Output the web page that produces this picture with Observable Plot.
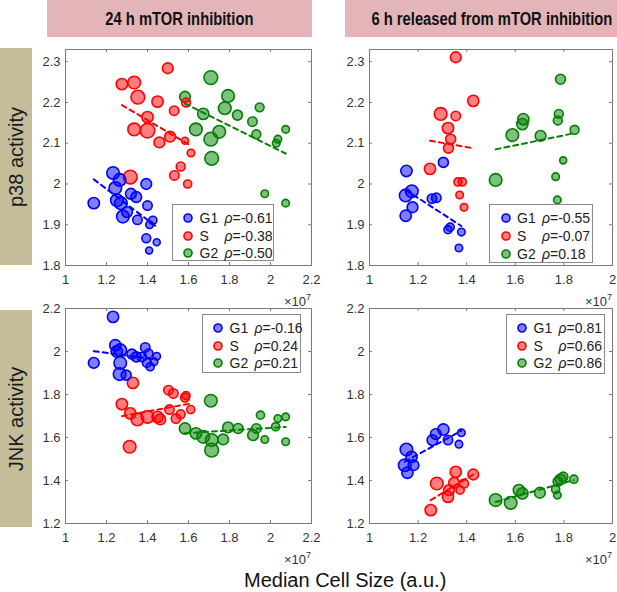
<!DOCTYPE html>
<html><head><meta charset="utf-8">
<script src="https://cdn.jsdelivr.net/npm/d3@7"></script>
<script src="https://cdn.jsdelivr.net/npm/@observablehq/plot@0.6"></script>
<style>
body{margin:0;background:#fff;font-family:"Liberation Sans",Arial,sans-serif;}
#wrap{position:relative;width:617px;height:592px;overflow:hidden;background:#fff;}
.hdr{position:absolute;top:0;height:37px;background:#e3b5b8;font-family:"Liberation Sans",Arial,sans-serif;font-weight:bold;font-size:18px;line-height:38px;text-align:center;color:#111;white-space:nowrap;}
.hdr span{display:inline-block;transform:scaleX(0.82);transform-origin:center;}
.side{position:absolute;left:0;width:32px;background:#c5bd9a;}
.side span{position:absolute;left:50%;top:50%;transform:translate(-50%,-50%) rotate(-90deg);white-space:nowrap;font-size:20px;color:#1a1a1a;}
.leg{position:absolute;background:#fff;border:1px solid #8a8a8a;box-sizing:border-box;font-size:14px;color:#222;}
.leg .row{position:absolute;left:0;height:16px;line-height:16px;white-space:nowrap;}
.exp{position:absolute;font-size:13px;color:#333;line-height:13px;text-align:right;white-space:nowrap;}
.exp sup{font-size:9px;line-height:0;vertical-align:6px;}
.xt{position:absolute;font-size:20px;line-height:20px;color:#111;white-space:nowrap;}
</style></head>
<body><div id="wrap"></div>
<script>
// ---------- labels ----------
const colTitles = ["24 h mTOR inhibition", "6 h released from mTOR inhibition"];
const rowTitles = ["p38 activity", "JNK activity"];
const xTitle = "Median Cell Size (a.u.)";
const phases = ["G1", "S", "G2"];
const phaseColors = ["#0000ff", "#ff0000", "#008000"];

// ---------- ticks ----------
const xTicks24h = [1, 1.2, 1.4, 1.6, 1.8, 2, 2.2];
const xTicks6h = [1, 1.2, 1.4, 1.6, 1.8, 2];
const yTicksP38 = [1.8, 1.9, 2, 2.1, 2.2, 2.3];
const yTicksJNK = [1.2, 1.4, 1.6, 1.8, 2, 2.2];

// ---------- correlations ----------
const rho_p38_24h = ["-0.61", "-0.38", "-0.50"];
const rho_p38_6h = ["-0.55", "-0.07", "0.18"];
const rho_jnk_24h = ["-0.16", "0.24", "0.21"];
const rho_jnk_6h = ["0.81", "0.66", "0.86"];

// ---------- p38, 24 h mTOR inhibition (x in 1e7 a.u.) ----------
const p38_24h_G1_x = [1.232,1.264,1.243,1.138,1.251,1.270,1.319,1.345,1.394,1.300,1.280,1.351,1.400,1.426,1.410,1.394,1.445,1.408];
const p38_24h_G1_y = [2.027,2.010,1.990,1.953,1.960,1.953,1.976,1.968,2.000,1.931,1.920,1.912,1.947,1.911,1.900,1.867,1.857,1.837];
const p38_24h_G1_n = [6.7,6.7,6.7,6,6.7,6.7,5.7,5.7,5.7,5.7,6.7,5,5,4.3,4,4.7,3.7,3.7];
const p38_24h_S_x = [1.499,1.275,1.335,1.353,1.449,1.530,1.588,1.400,1.335,1.400,1.510,1.458,1.583,1.612,1.562,1.531,1.596,1.316];
const p38_24h_S_y = [2.284,2.245,2.249,2.213,2.202,2.180,2.200,2.164,2.134,2.131,2.116,2.102,2.106,2.076,2.043,2.021,2.000,2.017];
const p38_24h_S_n = [5.7,6,6.7,7.3,6,5,4.7,6,6.7,7.7,5.7,5.7,3.7,4,4.7,5,4.3,7.3];
const p38_24h_G2_x = [1.709,1.583,1.793,1.777,1.839,1.947,1.672,1.912,1.636,1.750,1.709,1.931,2.036,2.028,2.074,1.713,1.972,2.074];
const p38_24h_G2_y = [2.261,2.214,2.216,2.186,2.169,2.188,2.172,2.153,2.134,2.128,2.110,2.122,2.110,2.100,2.134,2.063,1.976,1.953];
const p38_24h_G2_n = [7.3,5.7,6.7,6.7,5.3,4.7,6,5,6.7,6.7,7.3,4.7,4,4,4,7.3,4,4];

// ---------- p38, 6 h released ----------
const p38_6h_G1_x = [1.152,1.149,1.174,1.177,1.149,1.257,1.275,1.304,1.323,1.332,1.378,1.368];
const p38_6h_G1_y = [2.032,1.972,1.982,1.943,1.922,1.964,1.966,2.053,1.888,1.894,1.882,1.843];
const p38_6h_G1_n = [6,6.7,6.7,5.7,6,5,5,5.3,4.3,4.3,4,4];
const p38_6h_S_x = [1.355,1.427,1.293,1.355,1.323,1.334,1.325,1.249,1.364,1.382,1.371,1.389];
const p38_6h_S_y = [2.311,2.204,2.172,2.167,2.137,2.110,2.088,2.037,2.005,2.005,1.973,1.943];
const p38_6h_S_n = [5.7,6,6.7,5,6,5.3,5.3,6,4.3,4.3,4,4];
const p38_6h_G2_x = [1.786,1.633,1.629,1.588,1.704,1.779,1.775,1.844,1.519,1.766,1.797,1.773];
const p38_6h_G2_y = [2.257,2.159,2.147,2.120,2.118,2.172,2.156,2.133,2.010,2.018,2.058,1.961];
const p38_6h_G2_n = [5.3,6,6,6.7,5.7,4.7,4.7,4.7,6.7,4,3.7,4];

// ---------- JNK, 24 h mTOR inhibition ----------
const jnk_24h_G1_x = [1.232,1.243,1.267,1.324,1.345,1.389,1.405,1.445,1.138,1.267,1.250,1.264,1.296,1.397,1.413,1.432,1.372];
const jnk_24h_G1_y = [2.161,2.029,2.006,1.988,1.975,2.019,1.991,1.978,1.947,1.947,2.000,1.895,1.890,1.947,1.929,1.952,1.975];
const jnk_24h_G1_n = [6,6,6.7,5.3,5.3,5,4.7,4,5.7,6.7,6,6.7,5.3,4.7,4.3,4,5];
const jnk_24h_S_x = [1.329,1.502,1.526,1.583,1.588,1.275,1.316,1.351,1.400,1.449,1.462,1.507,1.539,1.562,1.611,1.313];
const jnk_24h_S_y = [1.854,1.820,1.805,1.786,1.795,1.755,1.712,1.684,1.696,1.696,1.684,1.730,1.688,1.708,1.730,1.557];
const jnk_24h_S_n = [6,5,5,4.7,4.3,6,6,6.7,6.7,6,5.7,5,5,4.7,4.3,6.7];
const jnk_24h_G2_x = [1.709,1.583,1.636,1.672,1.713,1.713,1.769,1.793,1.842,1.915,1.931,1.951,1.972,2.025,2.036,2.074,2.074];
const jnk_24h_G2_y = [1.771,1.642,1.619,1.603,1.588,1.541,1.591,1.647,1.642,1.611,1.642,1.704,1.591,1.650,1.688,1.696,1.580];
const jnk_24h_G2_n = [6.7,6,6,6.7,6.7,7.3,5.7,5.7,5.3,5.7,5,4.3,4,4.3,4,4,4];

// ---------- JNK, 6 h released ----------
const jnk_6h_G1_x = [1.152,1.145,1.156,1.173,1.181,1.259,1.273,1.304,1.323,1.368,1.378];
const jnk_6h_G1_y = [1.544,1.471,1.436,1.510,1.471,1.588,1.616,1.637,1.588,1.569,1.622];
const jnk_6h_G1_n = [6.7,6.7,6,6,5.7,5.7,5.7,6,5,4,4];
const jnk_6h_S_x = [1.252,1.277,1.323,1.355,1.348,1.373,1.389,1.427,1.327];
const jnk_6h_S_y = [1.262,1.386,1.324,1.440,1.389,1.355,1.386,1.428,1.355];
const jnk_6h_S_n = [6,6.7,6,6,5.7,4.3,4.7,5.7,5.7];
const jnk_6h_G2_x = [1.519,1.581,1.615,1.629,1.701,1.766,1.773,1.786,1.797,1.841,1.775];
const jnk_6h_G2_y = [1.309,1.296,1.355,1.340,1.343,1.358,1.332,1.405,1.417,1.406,1.395];
const jnk_6h_G2_n = [6.7,6.7,6,6,5.7,4.3,4,5.7,5,4.3,5];

// ---------- helpers ----------
const rows = (xs, ys, ns, phase) => xs.map((x, i) => ({x, y: ys[i], n: ns[i], phase}));
const table = (g1, s, g2) => [...rows(...g1, "G1"), ...rows(...s, "S"), ...rows(...g2, "G2")];
const fmt = d3.format("~g");
const wrap = document.getElementById("wrap");

function div(cls, css, html) {
  const el = document.createElement("div");
  el.className = cls;
  Object.assign(el.style, css);
  el.innerHTML = html;
  wrap.appendChild(el);
  return el;
}

function panel(data, o) {
  const f = o.frame;
  const mL = 40, mT = 10, mR = 8, mB = 30;
  const fw = f.right - f.left, fh = f.bottom - f.top;
  const axisColor = "#7a7a7a";
  const chart = Plot.plot({
    width: fw + mL + mR, height: fh + mT + mB,
    marginLeft: mL, marginTop: mT, marginRight: mR, marginBottom: mB,
    style: {background: "transparent", fontFamily: "Liberation Sans, Arial, sans-serif", fontSize: "13px", color: "#333", overflow: "visible"},
    x: {domain: o.xDomain, label: null},
    y: {domain: o.yDomain, label: null},
    r: {type: "linear", domain: [0, 10], range: [0, 9.4]},
    color: {domain: phases, range: phaseColors},
    marks: [
      Plot.frame({stroke: axisColor}),
      Plot.tickX(o.xTicks, {x: d => d, insetTop: fh - 3, stroke: axisColor}),
      Plot.tickX(o.xTicks, {x: d => d, insetBottom: fh - 3, stroke: axisColor}),
      Plot.tickY(o.yTicks, {y: d => d, insetRight: fw - 3, stroke: axisColor}),
      Plot.tickY(o.yTicks, {y: d => d, insetLeft: fw - 3, stroke: axisColor}),
      Plot.axisX({ticks: o.xTicks, tickSize: 0, tickPadding: 9, tickFormat: fmt, label: null}),
      Plot.axisY({ticks: o.yTicks, tickSize: 0, tickPadding: 5, tickFormat: fmt, label: null}),
      Plot.dot(data, {x: "x", y: "y", r: "n", fill: "phase", stroke: "phase", fillOpacity: 0.5, strokeWidth: 1.6}),
      Plot.linearRegressionY(data, {x: "x", y: "y", stroke: "phase", ci: 0, strokeWidth: 2, strokeDasharray: "5,4"})
    ]
  });
  chart.style.position = "absolute";
  chart.style.left = (f.left - mL) + "px";
  chart.style.top = (f.top - mT) + "px";
  wrap.appendChild(chart);

  // exponent label
  div("exp", {right: (617 - f.right) + "px", top: (f.bottom + 29.5) + "px"}, "&times;10<sup>7</sup>");

  // legend
  const L = o.legend;
  const leg = div("leg", {left: L.left + "px", top: L.top + "px", width: L.w + "px", height: L.h + "px"}, "");
  const rowY = [14, 32, 49.5];
  phases.forEach((p, i) => {
    const r = document.createElement("div");
    r.className = "row";
    r.style.top = (rowY[i] - 8 - 1) + "px";
    r.innerHTML =
      `<svg width="12" height="12" style="position:absolute;left:${16.5 - 6 - 1}px;top:2px"><circle cx="6" cy="6" r="4" fill="${phaseColors[i]}" fill-opacity="0.5" stroke="${phaseColors[i]}" stroke-width="1.6"/></svg>` +
      `<span style="position:absolute;left:${28 - 1}px">${p}</span>` +
      `<span style="position:absolute;left:${53 - 1}px"><i>&rho;</i>=${o.rho[i]}</span>`;
    leg.appendChild(r);
  });
}

// ---------- page furniture ----------
div("hdr", {left: "47px", width: "265px"}, `<span>${colTitles[0]}</span>`);
div("hdr", {left: "345px", width: "272px"}, `<span>${colTitles[1]}</span>`);
div("side", {top: "48px", height: "217px"}, `<span>${rowTitles[0]}</span>`);
div("side", {top: "310px", height: "217px"}, `<span>${rowTitles[1]}</span>`);

// ---------- panels ----------
panel(table([p38_24h_G1_x, p38_24h_G1_y, p38_24h_G1_n], [p38_24h_S_x, p38_24h_S_y, p38_24h_S_n], [p38_24h_G2_x, p38_24h_G2_y, p38_24h_G2_n]), {
  frame: {left: 65, right: 311, top: 49, bottom: 265},
  xDomain: [1, 2.2], yDomain: [1.8, 2.33], xTicks: xTicks24h, yTicks: yTicksP38, rho: rho_p38_24h,
  legend: {left: 171.5, top: 203.5, w: 102, h: 57}
});
panel(table([p38_6h_G1_x, p38_6h_G1_y, p38_6h_G1_n], [p38_6h_S_x, p38_6h_S_y, p38_6h_S_n], [p38_6h_G2_x, p38_6h_G2_y, p38_6h_G2_n]), {
  frame: {left: 369, right: 612, top: 49, bottom: 265},
  xDomain: [1, 2], yDomain: [1.8, 2.33], xTicks: xTicks6h, yTicks: yTicksP38, rho: rho_p38_6h,
  legend: {left: 489, top: 204, w: 104, h: 59}
});
panel(table([jnk_24h_G1_x, jnk_24h_G1_y, jnk_24h_G1_n], [jnk_24h_S_x, jnk_24h_S_y, jnk_24h_S_n], [jnk_24h_G2_x, jnk_24h_G2_y, jnk_24h_G2_n]), {
  frame: {left: 65, right: 311, top: 308, bottom: 523},
  xDomain: [1, 2.2], yDomain: [1.2, 2.2], xTicks: xTicks24h, yTicks: yTicksJNK, rho: rho_jnk_24h,
  legend: {left: 201.5, top: 313.5, w: 99.5, h: 59}
});
panel(table([jnk_6h_G1_x, jnk_6h_G1_y, jnk_6h_G1_n], [jnk_6h_S_x, jnk_6h_S_y, jnk_6h_S_n], [jnk_6h_G2_x, jnk_6h_G2_y, jnk_6h_G2_n]), {
  frame: {left: 369, right: 612, top: 308, bottom: 523},
  xDomain: [1, 2], yDomain: [1.2, 2.2], xTicks: xTicks6h, yTicks: yTicksJNK, rho: rho_jnk_6h,
  legend: {left: 505.5, top: 313.5, w: 99.5, h: 60}
});

// x title
const xt = div("xt", {top: "570px"}, xTitle);
xt.style.left = (345 - xt.offsetWidth / 2) + "px";
</script>
</body></html>
